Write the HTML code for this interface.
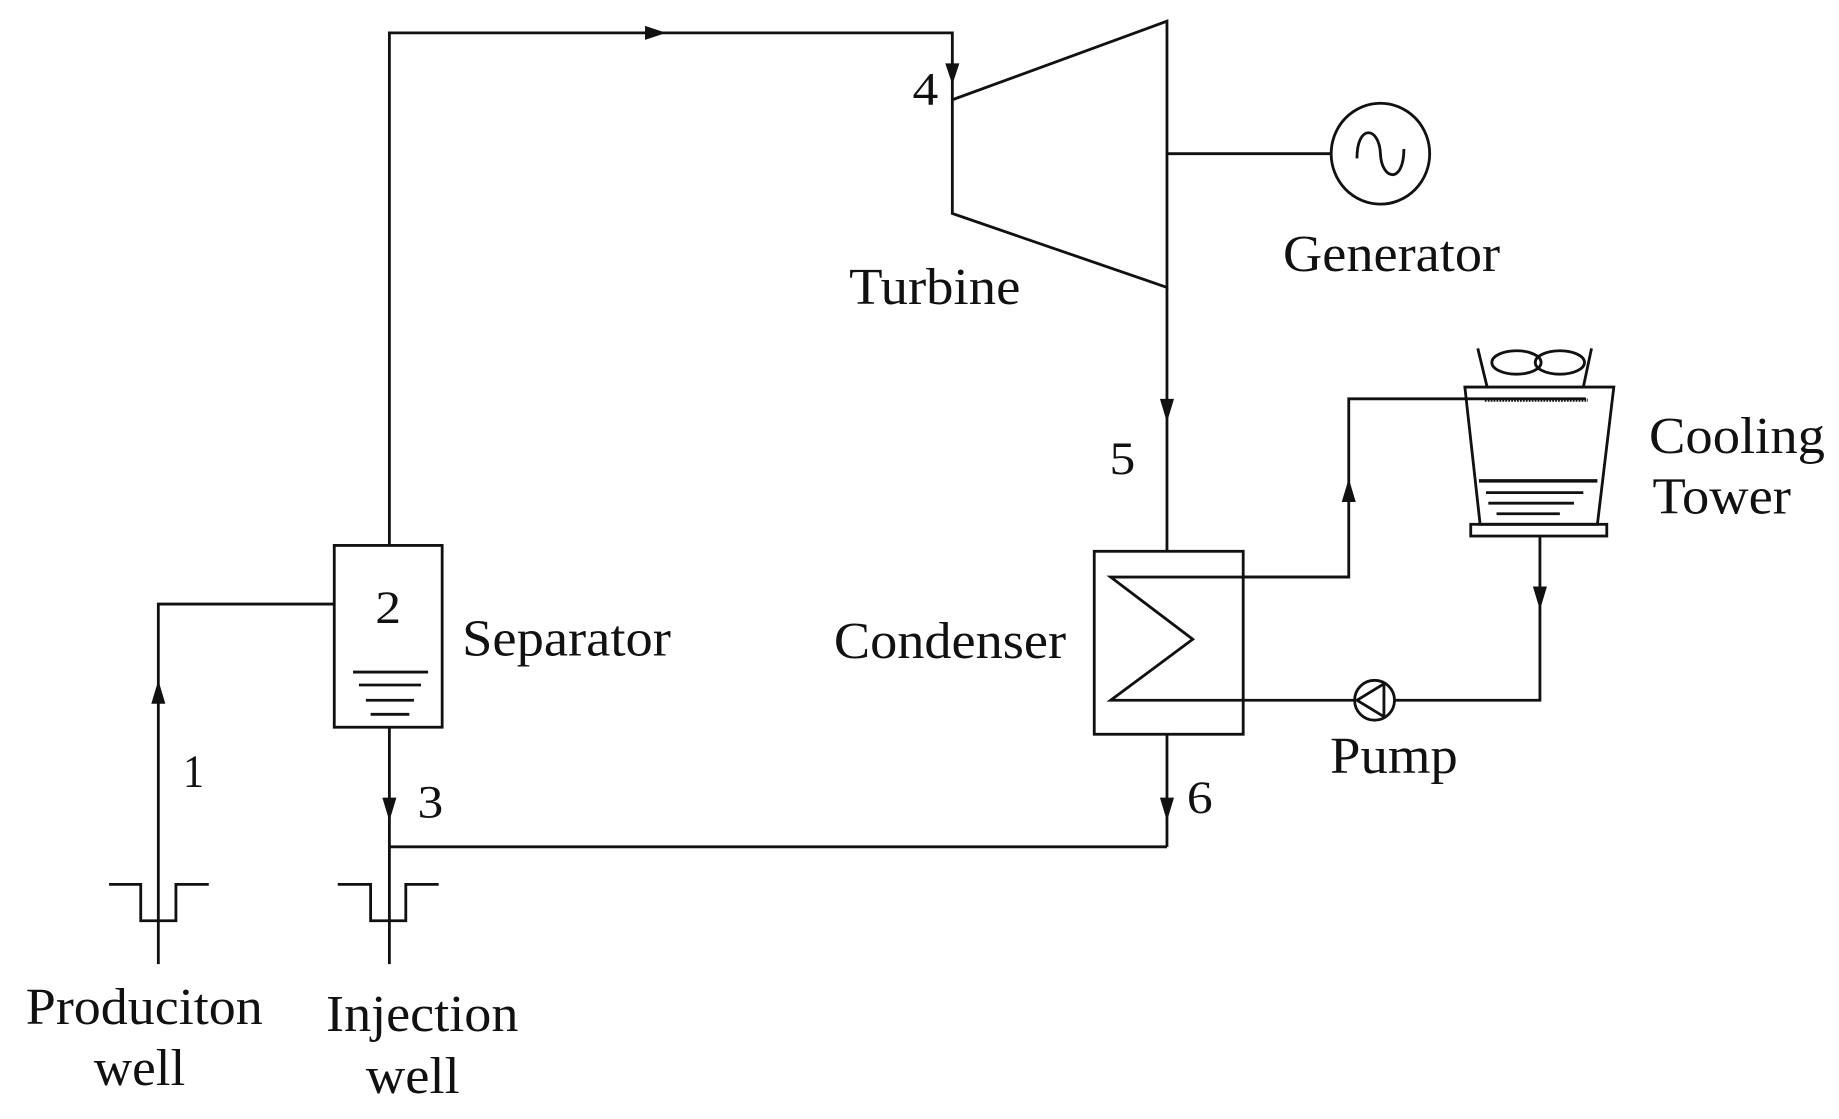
<!DOCTYPE html>
<html><head><meta charset="utf-8"><style>
html,body{margin:0;padding:0;background:#fff;}
svg{display:block;}
text{font-family:"Liberation Serif",serif;fill:#111;}
</style></head><body>
<svg width="1839" height="1119" viewBox="0 0 1568 954" xmlns="http://www.w3.org/2000/svg">
<g fill="none" stroke="#111" stroke-width="2.4">
<polyline points="332,465 332,28 812,28 812,85"/>
<polygon points="812,85 995,18 995,245 812,182"/>
<line x1="995" y1="245" x2="995" y2="470"/>
<line x1="995" y1="131" x2="1135" y2="131"/>
<ellipse cx="1177" cy="131" rx="42" ry="43"/>
<path d="M1157,135 C1157,105 1176,108 1177,131 C1178,154 1197,157 1197,127"/>
<rect x="933" y="470" width="127" height="156"/>
<polyline points="1150,492 947,492 1017,545 947,597 1155,597"/>
<polyline points="1060,492 1150,492 1150,340 1352,340"/>
<line x1="995" y1="626" x2="995" y2="722"/>
<polygon points="1249,330 1376,330 1362,447 1262,447"/>
<rect x="1254" y="447" width="116" height="10"/>
<polyline points="1260,297 1268,330"/>
<polyline points="1357,297 1350,330"/>
<ellipse cx="1293" cy="309" rx="21" ry="10"/>
<ellipse cx="1330" cy="309" rx="21" ry="10"/>
<line x1="1261" y1="410" x2="1362" y2="410" stroke-width="3"/>
<line x1="1267" y1="420" x2="1350" y2="420"/>
<line x1="1269" y1="429" x2="1342" y2="429"/>
<line x1="1276" y1="438" x2="1330" y2="438"/>
<polyline points="1313,457 1313,597 1189,597"/>
<circle cx="1172" cy="597" r="17"/>
<polyline points="1180,583 1157,597 1180,611 1180,583"/>
<rect x="285" y="465" width="92" height="155"/>
<line x1="301" y1="573" x2="365" y2="573"/>
<line x1="306" y1="584" x2="359" y2="584"/>
<line x1="312" y1="597" x2="353" y2="597"/>
<line x1="316" y1="609" x2="349" y2="609"/>
<polyline points="285,515 135,515 135,822"/>
<line x1="332" y1="620" x2="332" y2="822"/>
<line x1="332" y1="722" x2="995" y2="722"/>
<polyline points="93,754 120,754 120,785 150,785 150,754 178,754"/>
<polyline points="288,754 316,754 316,785 346,785 346,754 374,754"/>
</g>
<line x1="1266" y1="341" x2="1354" y2="341" stroke="#111" stroke-width="3" stroke-dasharray="1.5,1"/>
<g fill="#111">
<polygon points="568,28 550,22 550,34"/>
<polygon points="812,72 806,54 818,54"/>
<polygon points="995,360 989,340 1001,340"/>
<polygon points="1150,408 1144,428 1156,428"/>
<polygon points="1313,520 1307,500 1319,500"/>
<polygon points="135,580 129,600 141,600"/>
<polygon points="332,700 326,680 338,680"/>
<polygon points="995,700 989,680 1001,680"/>
</g>
<g font-size="44">
<text x="778" y="89" font-size="40" textLength="22" lengthAdjust="spacingAndGlyphs">4</text>
<text x="724" y="259" textLength="146" lengthAdjust="spacingAndGlyphs">Turbine</text>
<text x="1094" y="231" textLength="185" lengthAdjust="spacingAndGlyphs">Generator</text>
<text x="946" y="404" font-size="40" textLength="22" lengthAdjust="spacingAndGlyphs">5</text>
<text x="1406" y="386" textLength="150" lengthAdjust="spacingAndGlyphs">Cooling</text>
<text x="1409" y="438" textLength="118" lengthAdjust="spacingAndGlyphs">Tower</text>
<text x="711" y="561" textLength="198" lengthAdjust="spacingAndGlyphs">Condenser</text>
<text x="394" y="559" textLength="178" lengthAdjust="spacingAndGlyphs">Separator</text>
<text x="320" y="531" font-size="40" textLength="22" lengthAdjust="spacingAndGlyphs">2</text>
<text x="1134" y="659" textLength="109" lengthAdjust="spacingAndGlyphs">Pump</text>
<text x="1012" y="693" font-size="40" textLength="22" lengthAdjust="spacingAndGlyphs">6</text>
<text x="156" y="671" font-size="40" textLength="18" lengthAdjust="spacingAndGlyphs">1</text>
<text x="356" y="697" font-size="40" textLength="22" lengthAdjust="spacingAndGlyphs">3</text>
<text x="22" y="873" textLength="202" lengthAdjust="spacingAndGlyphs">Produciton</text>
<text x="80" y="925" textLength="78" lengthAdjust="spacingAndGlyphs">well</text>
<text x="278" y="879" textLength="164" lengthAdjust="spacingAndGlyphs">Injection</text>
<text x="312" y="932" textLength="80" lengthAdjust="spacingAndGlyphs">well</text>
</g>
</svg>
</body></html>
